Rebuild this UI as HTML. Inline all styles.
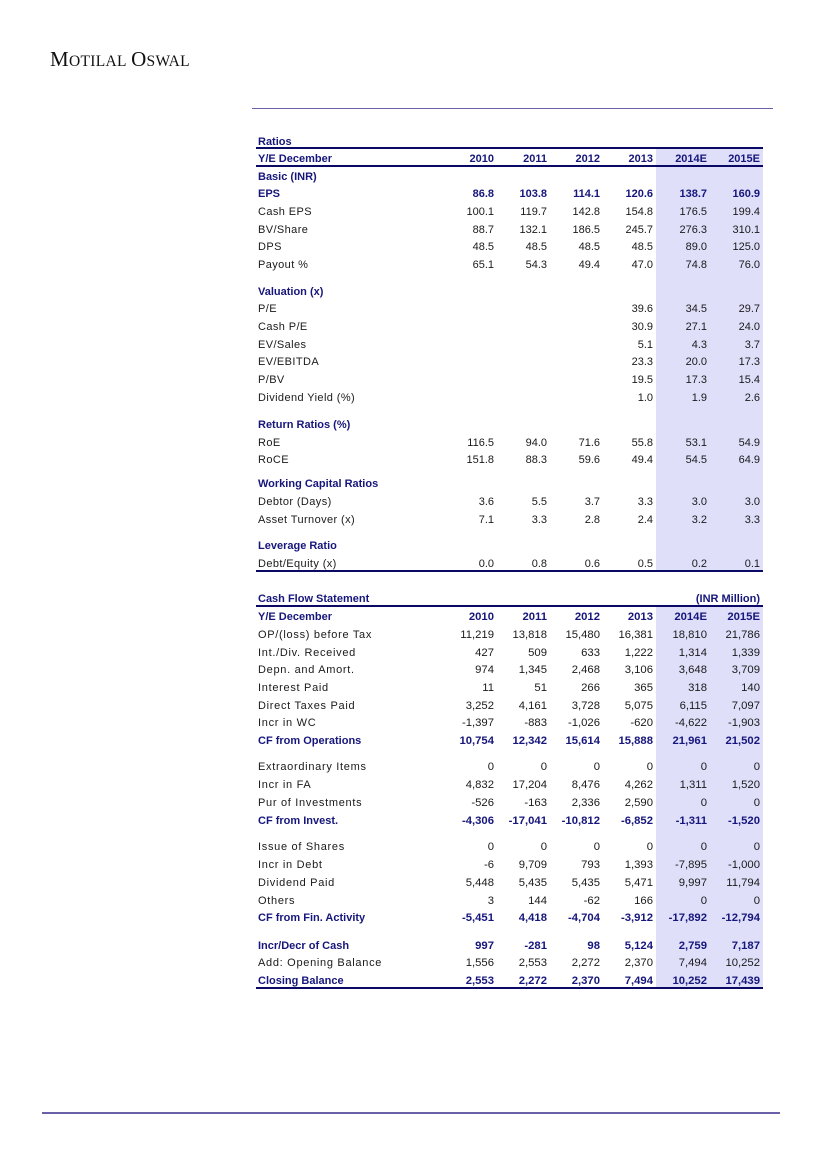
<!DOCTYPE html>
<html>
<head>
<meta charset="utf-8">
<style>
html,body{margin:0;padding:0;background:#fff;}
body{width:827px;height:1169px;position:relative;overflow:hidden;font-family:"Liberation Sans",Arial,sans-serif;color:#1a1a1a;}
.logo{position:absolute;left:50px;top:49px;font-family:"Liberation Serif",serif;color:#111;line-height:21px;white-space:nowrap;letter-spacing:0.3px;}
.logo .b{font-size:21px;}
.logo .s{font-size:15.5px;}
.hr{position:absolute;background:#0a0a66;height:2px;}
.sh{position:absolute;background:#dfdffa;}
.r{position:absolute;left:0;width:827px;height:16px;line-height:16px;font-size:11px;white-space:nowrap;}
.r span{position:absolute;top:0;}
.l{left:258px;letter-spacing:0.4px;}
.cf .l{letter-spacing:0.7px;}
.cf span.n{font-size:11.3px;}
.a,.b1,.c,.d,.e,.f{width:60px;text-align:right;}
.a{left:434px}.b1{left:487px}.c{left:540px}.d{left:593px}.e{left:647px}.f{left:700px}
.bn{color:#16167c;font-weight:bold;}
.bn .l{letter-spacing:0;}
.cf.bn .l{letter-spacing:0;}
</style>
</head>
<body>

<div class="logo"><span class="b">M</span><span class="s">OTILAL</span> <span class="b">O</span><span class="s">SWAL</span></div>

<div class="hr" style="left:252px;top:107.5px;width:521px;height:1.5px;background:#6a60a8;"></div>
<div class="hr" style="left:42px;top:1112px;width:738px;height:1.5px;background:#6a60a8;"></div>

<!-- shading -->
<div class="sh" style="left:656px;top:148px;width:107px;height:423px;"></div>
<div class="sh" style="left:656px;top:606px;width:107px;height:382px;"></div>

<!-- lines top table -->
<div class="hr" style="left:256px;top:147px;width:507px;"></div>
<div class="hr" style="left:256px;top:165px;width:507px;"></div>
<div class="hr" style="left:256px;top:570px;width:507px;"></div>
<!-- lines cash flow -->
<div class="hr" style="left:256px;top:605px;width:507px;"></div>
<div class="hr" style="left:256px;top:987px;width:507px;"></div>

<!-- Ratios table -->
<div class="r bn" style="top:133.5px"><span class="l">Ratios</span></div>
<div class="r bn" style="top:151px"><span class="l">Y/E December</span><span class="a">2010</span><span class="b1">2011</span><span class="c">2012</span><span class="d">2013</span><span class="e">2014E</span><span class="f">2015E</span></div>
<div class="r bn" style="top:169px"><span class="l">Basic (INR)</span></div>
<div class="r bn" style="top:186.3px"><span class="l">EPS</span><span class="a">86.8</span><span class="b1">103.8</span><span class="c">114.1</span><span class="d">120.6</span><span class="e">138.7</span><span class="f">160.9</span></div>
<div class="r" style="top:203.8px"><span class="l">Cash EPS</span><span class="a">100.1</span><span class="b1">119.7</span><span class="c">142.8</span><span class="d">154.8</span><span class="e">176.5</span><span class="f">199.4</span></div>
<div class="r" style="top:221.5px"><span class="l">BV/Share</span><span class="a">88.7</span><span class="b1">132.1</span><span class="c">186.5</span><span class="d">245.7</span><span class="e">276.3</span><span class="f">310.1</span></div>
<div class="r" style="top:239.3px"><span class="l">DPS</span><span class="a">48.5</span><span class="b1">48.5</span><span class="c">48.5</span><span class="d">48.5</span><span class="e">89.0</span><span class="f">125.0</span></div>
<div class="r" style="top:257px"><span class="l">Payout %</span><span class="a">65.1</span><span class="b1">54.3</span><span class="c">49.4</span><span class="d">47.0</span><span class="e">74.8</span><span class="f">76.0</span></div>

<div class="r bn" style="top:283.5px"><span class="l">Valuation (x)</span></div>
<div class="r" style="top:301.3px"><span class="l">P/E</span><span class="d">39.6</span><span class="e">34.5</span><span class="f">29.7</span></div>
<div class="r" style="top:319px"><span class="l">Cash P/E</span><span class="d">30.9</span><span class="e">27.1</span><span class="f">24.0</span></div>
<div class="r" style="top:336.5px"><span class="l">EV/Sales</span><span class="d">5.1</span><span class="e">4.3</span><span class="f">3.7</span></div>
<div class="r" style="top:354px"><span class="l">EV/EBITDA</span><span class="d">23.3</span><span class="e">20.0</span><span class="f">17.3</span></div>
<div class="r" style="top:371.7px"><span class="l">P/BV</span><span class="d">19.5</span><span class="e">17.3</span><span class="f">15.4</span></div>
<div class="r" style="top:389.5px"><span class="l">Dividend Yield (%)</span><span class="d">1.0</span><span class="e">1.9</span><span class="f">2.6</span></div>

<div class="r bn" style="top:417px"><span class="l">Return Ratios (%)</span></div>
<div class="r" style="top:434.8px"><span class="l">RoE</span><span class="a">116.5</span><span class="b1">94.0</span><span class="c">71.6</span><span class="d">55.8</span><span class="e">53.1</span><span class="f">54.9</span></div>
<div class="r" style="top:452.3px"><span class="l">RoCE</span><span class="a">151.8</span><span class="b1">88.3</span><span class="c">59.6</span><span class="d">49.4</span><span class="e">54.5</span><span class="f">64.9</span></div>

<div class="r bn" style="top:476.3px"><span class="l">Working Capital Ratios</span></div>
<div class="r" style="top:494.3px"><span class="l">Debtor (Days)</span><span class="a">3.6</span><span class="b1">5.5</span><span class="c">3.7</span><span class="d">3.3</span><span class="e">3.0</span><span class="f">3.0</span></div>
<div class="r" style="top:512.3px"><span class="l">Asset Turnover (x)</span><span class="a">7.1</span><span class="b1">3.3</span><span class="c">2.8</span><span class="d">2.4</span><span class="e">3.2</span><span class="f">3.3</span></div>

<div class="r bn" style="top:538px"><span class="l">Leverage Ratio</span></div>
<div class="r" style="top:556px"><span class="l">Debt/Equity (x)</span><span class="a">0.0</span><span class="b1">0.8</span><span class="c">0.6</span><span class="d">0.5</span><span class="e">0.2</span><span class="f">0.1</span></div>

<!-- Cash Flow table -->
<div class="r cf bn" style="top:591px"><span class="l">Cash Flow Statement</span><span style="left:640px;width:120px;text-align:right;">(INR Million)</span></div>
<div class="r cf bn" style="top:609.3px"><span class="l">Y/E December</span><span class="a n">2010</span><span class="b1 n">2011</span><span class="c n">2012</span><span class="d n">2013</span><span class="e n">2014E</span><span class="f n">2015E</span></div>
<div class="r cf" style="top:627px"><span class="l">OP/(loss) before Tax</span><span class="a n">11,219</span><span class="b1 n">13,818</span><span class="c n">15,480</span><span class="d n">16,381</span><span class="e n">18,810</span><span class="f n">21,786</span></div>
<div class="r cf" style="top:644.7px"><span class="l">Int./Div. Received</span><span class="a n">427</span><span class="b1 n">509</span><span class="c n">633</span><span class="d n">1,222</span><span class="e n">1,314</span><span class="f n">1,339</span></div>
<div class="r cf" style="top:662px"><span class="l">Depn. and Amort.</span><span class="a n">974</span><span class="b1 n">1,345</span><span class="c n">2,468</span><span class="d n">3,106</span><span class="e n">3,648</span><span class="f n">3,709</span></div>
<div class="r cf" style="top:679.7px"><span class="l">Interest Paid</span><span class="a n">11</span><span class="b1 n">51</span><span class="c n">266</span><span class="d n">365</span><span class="e n">318</span><span class="f n">140</span></div>
<div class="r cf" style="top:697.7px"><span class="l">Direct Taxes Paid</span><span class="a n">3,252</span><span class="b1 n">4,161</span><span class="c n">3,728</span><span class="d n">5,075</span><span class="e n">6,115</span><span class="f n">7,097</span></div>
<div class="r cf" style="top:714.7px"><span class="l">Incr in WC</span><span class="a n">-1,397</span><span class="b1 n">-883</span><span class="c n">-1,026</span><span class="d n">-620</span><span class="e n">-4,622</span><span class="f n">-1,903</span></div>
<div class="r cf bn" style="top:732.7px"><span class="l">CF from Operations</span><span class="a n">10,754</span><span class="b1 n">12,342</span><span class="c n">15,614</span><span class="d n">15,888</span><span class="e n">21,961</span><span class="f n">21,502</span></div>

<div class="r cf" style="top:759.3px"><span class="l">Extraordinary Items</span><span class="a n">0</span><span class="b1 n">0</span><span class="c n">0</span><span class="d n">0</span><span class="e n">0</span><span class="f n">0</span></div>
<div class="r cf" style="top:777px"><span class="l">Incr in FA</span><span class="a n">4,832</span><span class="b1 n">17,204</span><span class="c n">8,476</span><span class="d n">4,262</span><span class="e n">1,311</span><span class="f n">1,520</span></div>
<div class="r cf" style="top:794.7px"><span class="l">Pur of Investments</span><span class="a n">-526</span><span class="b1 n">-163</span><span class="c n">2,336</span><span class="d n">2,590</span><span class="e n">0</span><span class="f n">0</span></div>
<div class="r cf bn" style="top:812.7px"><span class="l">CF from Invest.</span><span class="a n">-4,306</span><span class="b1 n">-17,041</span><span class="c n">-10,812</span><span class="d n">-6,852</span><span class="e n">-1,311</span><span class="f n">-1,520</span></div>

<div class="r cf" style="top:839.3px"><span class="l">Issue of Shares</span><span class="a n">0</span><span class="b1 n">0</span><span class="c n">0</span><span class="d n">0</span><span class="e n">0</span><span class="f n">0</span></div>
<div class="r cf" style="top:857px"><span class="l">Incr in Debt</span><span class="a n">-6</span><span class="b1 n">9,709</span><span class="c n">793</span><span class="d n">1,393</span><span class="e n">-7,895</span><span class="f n">-1,000</span></div>
<div class="r cf" style="top:875px"><span class="l">Dividend Paid</span><span class="a n">5,448</span><span class="b1 n">5,435</span><span class="c n">5,435</span><span class="d n">5,471</span><span class="e n">9,997</span><span class="f n">11,794</span></div>
<div class="r cf" style="top:892.7px"><span class="l">Others</span><span class="a n">3</span><span class="b1 n">144</span><span class="c n">-62</span><span class="d n">166</span><span class="e n">0</span><span class="f n">0</span></div>
<div class="r cf bn" style="top:910.3px"><span class="l">CF from Fin. Activity</span><span class="a n">-5,451</span><span class="b1 n">4,418</span><span class="c n">-4,704</span><span class="d n">-3,912</span><span class="e n">-17,892</span><span class="f n">-12,794</span></div>

<div class="r cf bn" style="top:937.7px"><span class="l">Incr/Decr of Cash</span><span class="a n">997</span><span class="b1 n">-281</span><span class="c n">98</span><span class="d n">5,124</span><span class="e n">2,759</span><span class="f n">7,187</span></div>
<div class="r cf" style="top:955.3px"><span class="l">Add: Opening Balance</span><span class="a n">1,556</span><span class="b1 n">2,553</span><span class="c n">2,272</span><span class="d n">2,370</span><span class="e n">7,494</span><span class="f n">10,252</span></div>
<div class="r cf bn" style="top:973px"><span class="l">Closing Balance</span><span class="a n">2,553</span><span class="b1 n">2,272</span><span class="c n">2,370</span><span class="d n">7,494</span><span class="e n">10,252</span><span class="f n">17,439</span></div>

</body>
</html>
